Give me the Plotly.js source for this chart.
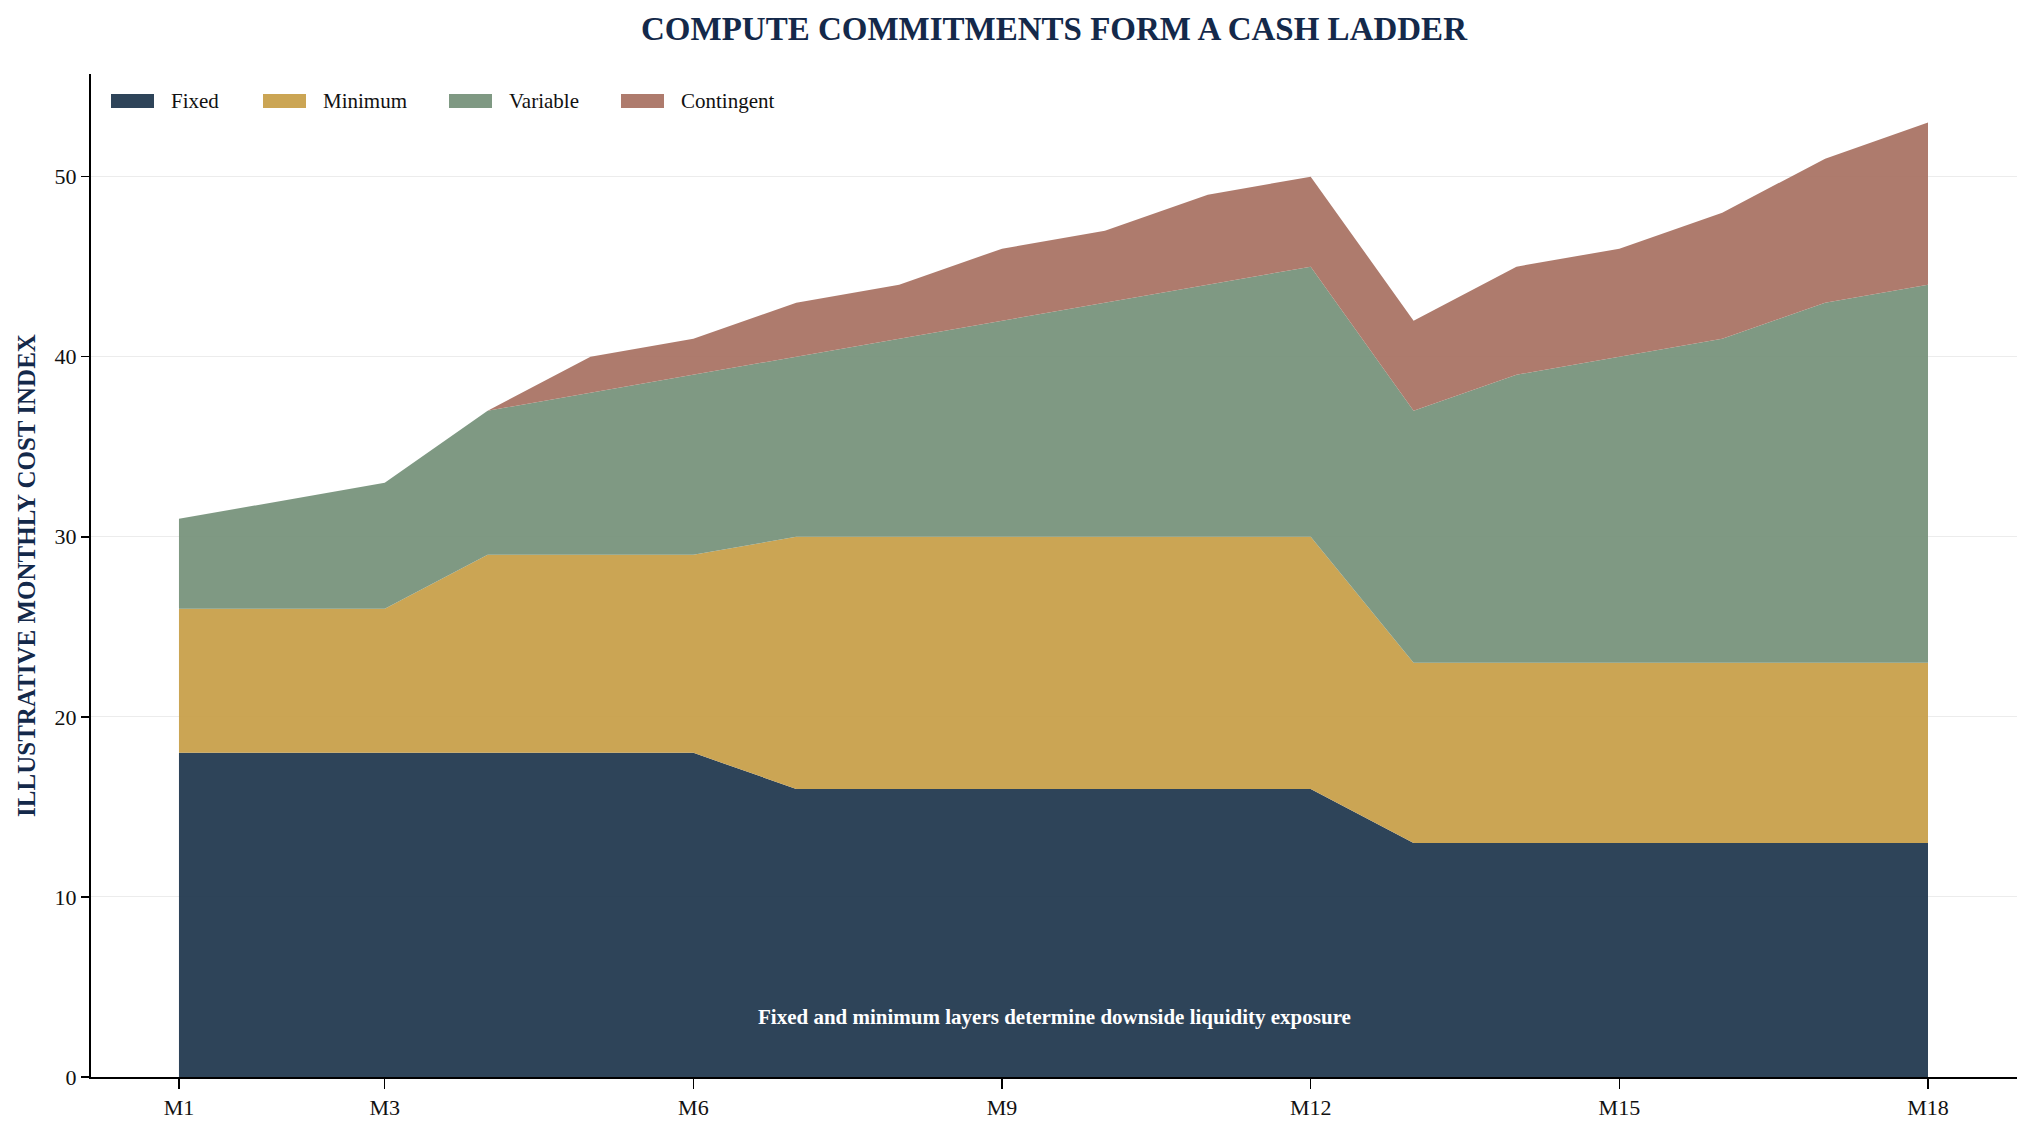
<!DOCTYPE html>
<html>
<head>
<meta charset="utf-8">
<script src="https://cdn.plot.ly/plotly-3.0.1.min.js"></script>
<style>
  html, body { margin: 0; padding: 0; background: #fff; }
  #chart { width: 2034px; height: 1134px; }
</style>
</head>
<body>
<div id="chart"></div>
<script>
// months on the x axis
var months = ['M1','M2','M3','M4','M5','M6','M7','M8','M9','M10','M11','M12','M13','M14','M15','M16','M17','M18'];
var monthTicks = ['M1','M3','M6','M9','M12','M15','M18'];

// stacked layers (index units)
var layerNames     = ['Fixed','Minimum','Variable','Contingent'];
var fixedCost      = [18,18,18,18,18,18,16,16,16,16,16,16,13,13,13,13,13,13];
var minimumCost    = [8,8,8,11,11,11,14,14,14,14,14,14,10,10,10,10,10,10];
var variableCost   = [5,6,7,8,9,10,10,11,12,13,14,15,14,16,17,18,20,21];
var contingentCost = [0,0,0,0,2,2,3,3,4,4,5,5,5,6,6,7,8,9];

var layerColors = ['rgba(35,58,80,0.95)','rgba(200,160,75,0.95)','rgba(120,147,124,0.95)','rgba(170,116,101,0.95)'];

var serif = '"Liberation Serif", "Times New Roman", serif';
var navy = '#14294a';

var W = 2034, H = 1134;
var M = {l: 91, r: 17, t: 74, b: 57};
var plotW = W - M.l - M.r, plotH = H - M.t - M.b;

function layer(name, vals, color) {
    return {
        x: months,
        y: vals,
        name: name,
        type: 'scatter',
        mode: 'lines',
        stackgroup: 'one',
        line: {width: 0, color: color},
        fillcolor: color,
        showlegend: false,
        hoverinfo: 'x+y+name'
    };
}

var data = [
    layer(layerNames[0], fixedCost, layerColors[0]),
    layer(layerNames[1], minimumCost, layerColors[1]),
    layer(layerNames[2], variableCost, layerColors[2]),
    layer(layerNames[3], contingentCost, layerColors[3])
];

// legend drawn by hand so the swatches are wide blocks like the original
var legendLeft = [111, 263, 449, 621]; // px from page left
var shapes = [], annotations = [];
function px(xp) { return (xp - M.l) / plotW; }
function py(yp) { return (H - M.b - yp) / plotH; }
for (var i = 0; i < layerNames.length; i++) {
    shapes.push({
        type: 'rect', xref: 'paper', yref: 'paper',
        x0: px(legendLeft[i]), x1: px(legendLeft[i] + 43),
        y0: py(108), y1: py(94),
        fillcolor: layerColors[i], line: {width: 0}
    });
    annotations.push({
        text: layerNames[i], xref: 'paper', yref: 'paper',
        x: px(legendLeft[i] + 58), y: py(101),
        xanchor: 'left', yanchor: 'middle', showarrow: false,
        font: {family: serif, size: 21, color: '#111111'}
    });
}

annotations.push({
    text: '<b>Fixed and minimum layers determine downside liquidity exposure</b>',
    xref: 'paper',
    yref: 'paper',
    x: 0.5,
    y: 0.06,
    xanchor: 'center',
    yanchor: 'middle',
    showarrow: false,
    font: {family: serif, size: 21, color: '#ffffff'}
});

var layout = {
    width: W,
    height: H,
    paper_bgcolor: '#ffffff',
    plot_bgcolor: '#ffffff',
    font: {family: serif, size: 21, color: '#111111'},
    margin: M,
    title: {
        text: '<b>COMPUTE COMMITMENTS FORM A CASH LADDER</b>',
        font: {family: serif, size: 33, color: navy},
        xref: 'paper',
        x: 0.5,
        xanchor: 'center',
        y: 0.975,
        yanchor: 'middle'
    },
    showlegend: false,
    xaxis: {
        type: 'category',
        range: [-0.855, 17.865],
        tickmode: 'array',
        tickvals: monthTicks,
        ticktext: monthTicks,
        showgrid: false,
        zeroline: false,
        showline: true,
        linecolor: '#000000',
        linewidth: 2,
        ticks: 'outside',
        ticklen: 10,
        tickwidth: 1.5,
        tickcolor: '#000000',
        tickfont: {family: serif, size: 22, color: '#111111'}
    },
    yaxis: {
        range: [0, 55.7],
        dtick: 10,
        showgrid: true,
        gridcolor: '#ececec',
        gridwidth: 1,
        zeroline: false,
        showline: true,
        linecolor: '#000000',
        linewidth: 2,
        ticks: 'outside',
        ticklen: 8,
        tickwidth: 1.5,
        tickcolor: '#000000',
        tickfont: {family: serif, size: 22, color: '#111111'},
        title: {
            text: '<b>ILLUSTRATIVE MONTHLY COST INDEX</b>',
            font: {family: serif, size: 25, color: navy},
            standoff: 12
        }
    },
    shapes: shapes,
    annotations: annotations
};

Plotly.newPlot('chart', data, layout, {displayModeBar: false, staticPlot: true});
</script>
</body>
</html>
